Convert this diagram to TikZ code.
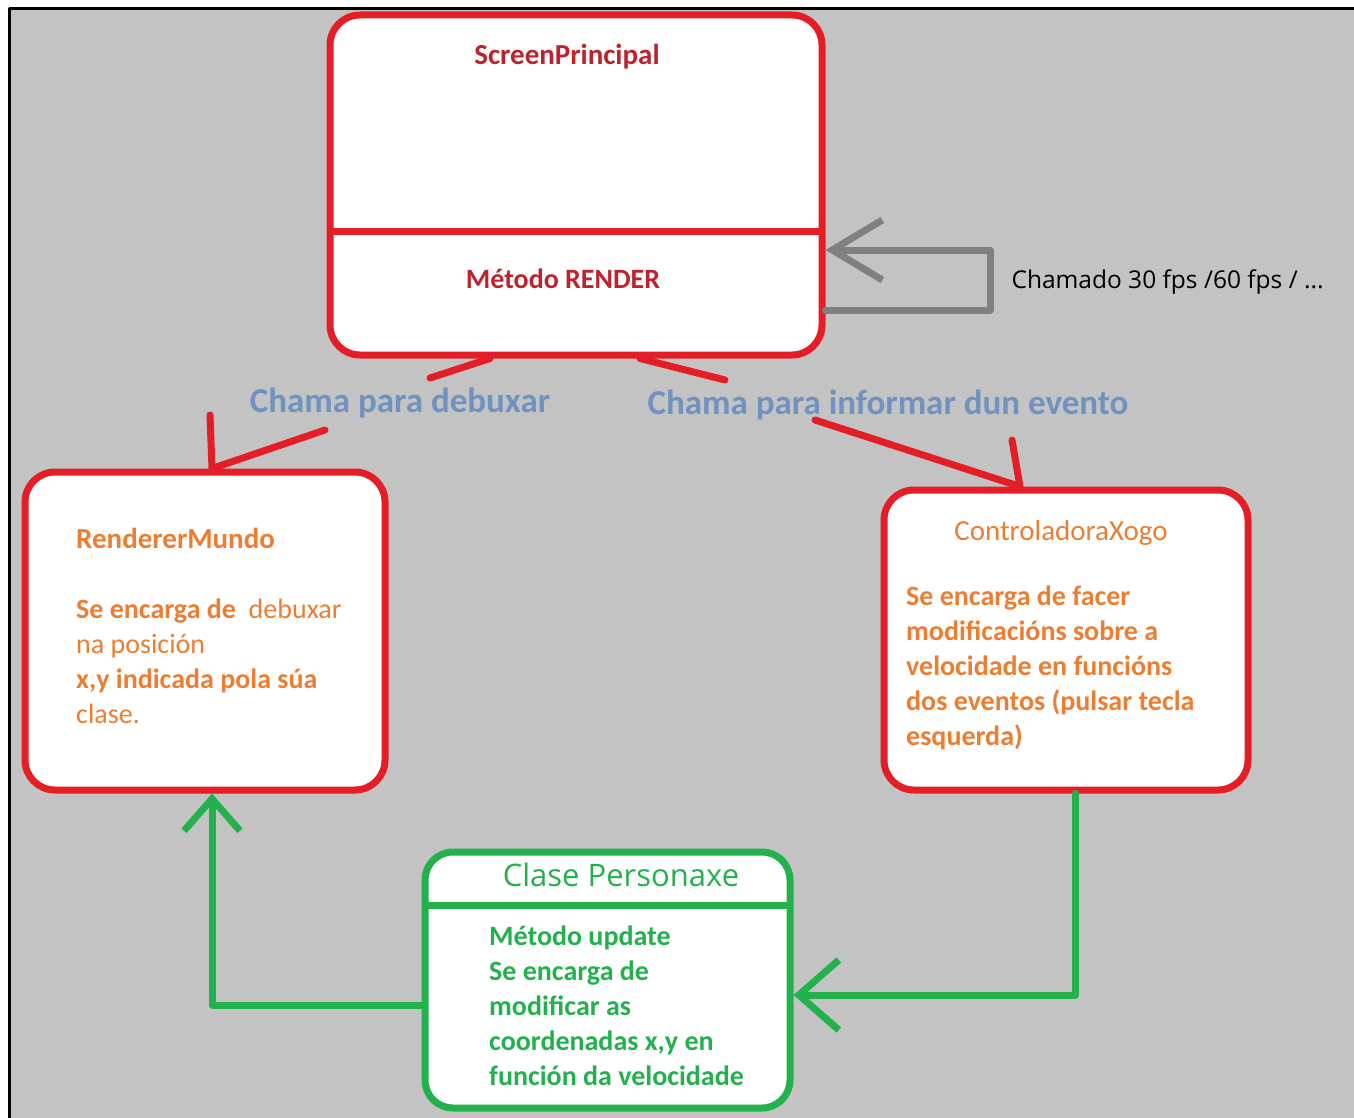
\documentclass[tikz,border=0pt]{standalone}
\usepackage{fontspec}
\setmainfont{Carlito}
\newfontfamily\opensans{Open Sans}
\usetikzlibrary{arrows.meta}
\definecolor{boxred}{RGB}{228,30,38}
\definecolor{titlered}{RGB}{190,35,45}
\definecolor{boxgreen}{RGB}{34,177,76}
\definecolor{txtorange}{RGB}{237,125,49}
\definecolor{lblblue}{RGB}{112,146,192}
\definecolor{loopgrey}{RGB}{128,128,128}
\definecolor{bggrey}{RGB}{195,195,195}
\begin{document}
\begin{tikzpicture}[x=1pt, y=-1pt, line cap=round, line join=round,
redbox/.style={draw=boxred, line width=7pt, fill=white, rounded corners=30pt},
greenbox/.style={draw=boxgreen, line width=7pt, fill=white, rounded corners=28pt},
redline/.style={draw=boxred, line width=7pt},
greenline/.style={draw=boxgreen, line width=7pt},
greyline/.style={draw=loopgrey, line width=7pt},
divider/.style={line width=7pt, line cap=butt},
body/.style={anchor=west, align=left, inner sep=0pt, font=\fontsize{28}{35}\selectfont},
callout/.style={font=\fontsize{35}{38}\selectfont\bfseries, text=lblblue}]
\useasboundingbox (0,0) rectangle (1354,1118);
\fill[white] (0,0) rectangle (1354,1118);
\fill[bggrey] (9,8) rectangle (1354,1118);
\draw[line width=3pt, line cap=butt] (9,1118) -- (9,8.5) -- (1354,8.5);

\node[redbox, minimum width=492pt, minimum height=340pt] (screen) at (576,185) {};
\draw[divider, draw=boxred] ([xshift=3pt]screen.west |- 0,231) -- ([xshift=-3pt]screen.east |- 0,231);
\node[font=\fontsize{29}{32}\selectfont\bfseries, text=titlered] (screenName) at (567,57) {ScreenPrincipal};
\node[font=\fontsize{28}{32}\selectfont\bfseries, text=titlered] (screenRender) at (563,279) {Método RENDER};

\node[redbox, minimum width=360pt, minimum height=318pt] (renderer) at (205,631) {};
\node[body, text=txtorange, font=\fontsize{29}{32}\selectfont\bfseries] (rendererName) at (76,538) {RendererMundo};
\node[body, text=txtorange] (rendererText) at (76,661) {\textbf{Se encarga de}~~debuxar\\ na posición\\ \textbf{x,y indicada pola súa}\\ clase.};

\node[redbox, minimum width=364pt, minimum height=300pt] (ctrl) at (1066,640) {};
\node[text=txtorange, font=\fontsize{29}{32}\selectfont] (ctrlName) at (1061,533) {ControladoraXogo};
\node[body, text=txtorange, font=\fontsize{28}{35}\selectfont\bfseries] (ctrlText) at (906,668) {Se encarga de facer\\ modificacións sobre a\\ velocidade en funcións\\ dos eventos (pulsar tecla\\ esquerda)};

\node[greenbox, minimum width=365pt, minimum height=256pt] (personaxe) at (607.5,980) {};
\draw[divider, draw=boxgreen] ([xshift=3pt]personaxe.west |- 0,905) -- ([xshift=-3pt]personaxe.east |- 0,905);
\node[text=boxgreen, font=\opensans\fontsize{31}{34}\selectfont] (personaxeName) at (621,875) {Clase Personaxe};
\node[body, text=boxgreen, font=\fontsize{28}{35}\selectfont\bfseries] (personaxeText) at (489,1006) {Método update\\ Se encarga de\\ modificar as\\ coordenadas x,y en\\ función da velocidade};

\node[callout] (lblDraw) at (400,403) {Chama para debuxar};
\node[callout] (lblInform) at (888,405) {Chama para informar dun evento};
\node[anchor=west, font=\opensans\fontsize{24.5}{28}\selectfont] (lblFps) at (1008,282) {Chamado 30 fps /60 fps / ...};

\coordinate (drawTail) at (430,378);
\coordinate (drawHead) at (325,430);
\coordinate (drawBarb) at (210,415);
\coordinate (informTail) at (725,380);
\coordinate (informHead) at (815,420);
\coordinate (informBarb) at (1012,440);

\draw[redline] (screen.south -| 490,0) -- (drawTail);
\draw[redline] (drawHead) -- (renderer.north -| 212,0) -- (drawBarb);
\draw[redline] (screen.south -| 640,0) -- (informTail);
\draw[redline] (informHead) -- (ctrl.north -| 1020,0) -- (informBarb);

\draw[greyline, -{Straight Barb[length=50pt, width=60pt]}] (screen.east |- 0,310) -- (990,310) -- (990,250) -- (screen.east |- 0,250);
\draw[greenline, -{Straight Barb[length=40pt, width=70pt]}] (ctrl.south -| 1075,0) |- (personaxe.east |- 0,995);
\draw[greenline, -{Straight Barb[length=32pt, width=56pt]}] (personaxe.west |- 0,1005) -| (renderer.south -| 212,0);
\end{tikzpicture}
\end{document}
